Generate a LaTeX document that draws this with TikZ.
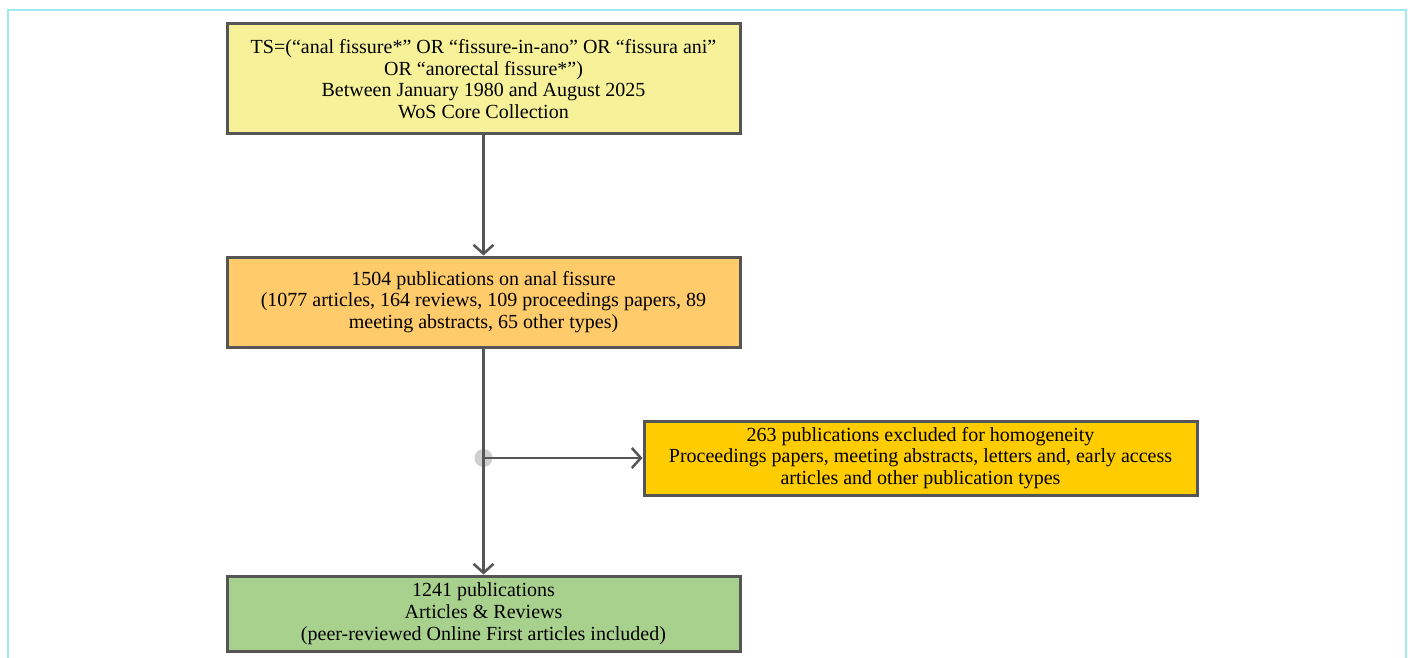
\documentclass[tikz,border=0pt]{standalone}
\usepackage{fontspec}
\setmainfont{Liberation Serif}
\usetikzlibrary{arrows.meta}

\definecolor{framecyan}{HTML}{9EE8EE}
\definecolor{boxline}{HTML}{555555}
\definecolor{searchyellow}{HTML}{F7F29A}
\definecolor{pubsorange}{HTML}{FFCB6B}
\definecolor{exclgold}{HTML}{FFCC00}
\definecolor{finalgreen}{HTML}{A9D18E}
\definecolor{splitgrey}{HTML}{CFCFCF}

\tikzset{
    flowbox/.style={draw=boxline, line width=3pt, align=center, inner sep=0pt,
        font=\fontsize{20}{21.7}\selectfont},
    flowline/.style={draw=boxline, line width=2.5pt,
        -{Straight Barb[length=9pt,width=20pt,line width=2.5pt]}},
}

\begin{document}
\begin{tikzpicture}[x=1pt, y=-1pt]
    \useasboundingbox (0,0) rectangle (1410,658);
    \fill[white] (0,0) rectangle (1410,658);

    % outer frame
    \draw[framecyan, line width=2pt] (8,658) -- (8,10) -- (1406,10) -- (1406,658);

    % boxes
    \node[flowbox, fill=searchyellow, minimum width=513pt, minimum height=110pt]
        (search) at (483.5,79)
        {TS=(“anal fissure*” OR “fissure-in-ano” OR “fissura ani”\\
         OR “anorectal fissure*”)\\
         Between January 1980 and August 2025\\
         WoS Core Collection};

    \node[flowbox, fill=pubsorange, minimum width=513pt, minimum height=90pt]
        (pubs) at (483.5,302)
        {1504 publications on anal fissure\\
         (1077 articles, 164 reviews, 109 proceedings papers, 89\\
         meeting abstracts, 65 other types)};

    \node[flowbox, fill=exclgold, minimum width=553pt, minimum height=74pt]
        (excl) at (920.5,458)
        {263 publications excluded for homogeneity\\
         Proceedings papers, meeting abstracts, letters and, early access\\
         articles and other publication types};

    \node[flowbox, fill=finalgreen, minimum width=513pt, minimum height=75pt]
        (final) at (483.5,613.5)
        {1241 publications\\
         Articles \& Reviews\\
         (peer-reviewed Online First articles included)};

    % connectors
    \coordinate (split) at (483.5,458);
    \fill[splitgrey] (split) circle (9pt);
    \draw[flowline] (search) -- (pubs);
    \draw[flowline] (pubs) -- (final);
    \draw[flowline] (split) -- (excl);
\end{tikzpicture}
\end{document}
